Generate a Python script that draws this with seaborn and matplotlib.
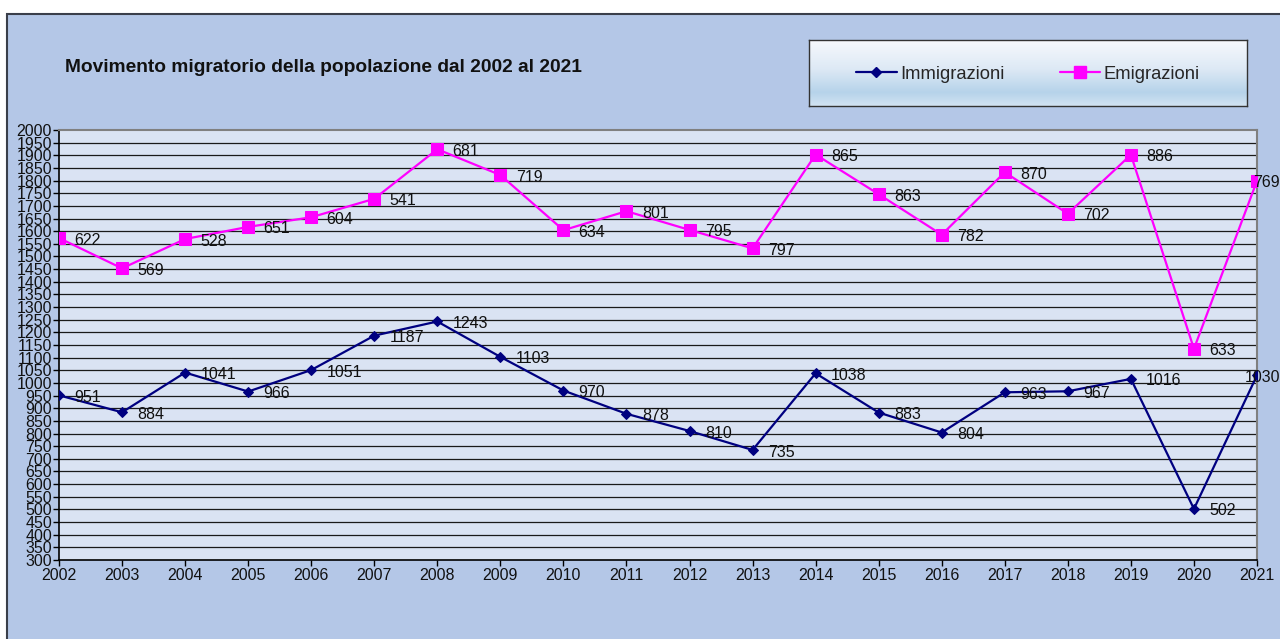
import numpy as np
import pandas as pd
import matplotlib
matplotlib.use("Agg")
import matplotlib.pyplot as plt
import seaborn as sns
from matplotlib.patches import Rectangle
from matplotlib.lines import Line2D
from matplotlib.colors import LinearSegmentedColormap

years = list(range(2002, 2022))
immigrazioni = [951, 884, 1041, 966, 1051, 1187, 1243, 1103, 970, 878,
                810, 735, 1038, 883, 804, 963, 967, 1016, 502, 1030]
emigrazioni = [622, 569, 528, 651, 604, 541, 681, 719, 634, 801,
               795, 797, 865, 863, 782, 870, 702, 886, 633, 769]
y_ticks = list(range(300, 2001, 50))
title = "Movimento migratorio della popolazione dal 2002 al 2021"

sns.set_theme(style="white")
plt.rcParams['font.family'] = ['Liberation Sans', 'DejaVu Sans']

W, H = 1280, 639
fig = plt.figure(figsize=(W / 100, H / 100), dpi=100, facecolor="white")

# chart area background with border
fig.patches.append(Rectangle((7 / W, -0.05), 1.1, 1 - 14 / H + 0.05,
                             transform=fig.transFigure, facecolor="#b4c7e7",
                             edgecolor="#3a3f4a", lw=1.5, zorder=-10))

ax = fig.add_axes([59 / W, 1 - 560 / H, (1257 - 59) / W, (560 - 130) / H])
ax.set_facecolor("#dae3f3")

df = pd.DataFrame({"Anno": years, "Immigrazioni": immigrazioni,
                   "Emigrazioni": emigrazioni})
df["Emi_cum"] = df["Immigrazioni"] + df["Emigrazioni"]

for y in y_ticks[1:-1]:
    ax.axhline(y, color="#1a1a1a", lw=0.9, zorder=1)

sns.lineplot(data=df, x="Anno", y="Immigrazioni", ax=ax, color="#000080",
             lw=1.6, marker="D", markersize=5.5, markeredgecolor="#000080",
             zorder=3)
sns.lineplot(data=df, x="Anno", y="Emi_cum", ax=ax, color="#ff00ff",
             lw=1.6, marker="s", markersize=8.5, markeredgecolor="#ff00ff",
             zorder=3)


def put_label(xv, yv, text, last):
    if last:
        ax.annotate(text, (xv, yv), xytext=(16.5, -1.5), textcoords="offset points",
                    ha="right", va="center", fontsize=11.5, color="#111111",
                    zorder=4, annotation_clip=False)
    else:
        ax.annotate(text, (xv, yv), xytext=(11, -1.5), textcoords="offset points",
                    ha="left", va="center", fontsize=11.5, color="#111111",
                    zorder=4, annotation_clip=False)


n = len(years)
for i, (xv, yv) in enumerate(zip(df["Anno"], df["Immigrazioni"])):
    put_label(xv, yv, str(yv), i == n - 1)
for i, (xv, yv, lab) in enumerate(zip(df["Anno"], df["Emi_cum"], df["Emigrazioni"])):
    put_label(xv, yv, str(lab), i == n - 1)

ax.set_xlim(years[0], years[-1])
ax.set_ylim(300, 2000)
ax.set_xticks(years)
ax.set_xticklabels([str(y) for y in years])
ax.set_yticks(y_ticks)
ax.set_yticklabels([str(y) for y in y_ticks])
ax.set_xlabel("")
ax.set_ylabel("")
ax.tick_params(axis="both", which="both", direction="out", length=4,
               width=1, color="black", labelsize=11.5, pad=2,
               labelcolor="#111111", left=True, bottom=True)
ax.tick_params(axis="y", pad=1)
for s in ["left", "bottom"]:
    ax.spines[s].set_color("black")
    ax.spines[s].set_linewidth(1.2)
for s in ["top", "right"]:
    ax.spines[s].set_color("#808080")
    ax.spines[s].set_linewidth(1.5)
if ax.get_legend():
    ax.get_legend().remove()

fig.text(65 / W, 1 - 68 / H, title, ha="left", va="center",
         fontsize=13.8, fontweight="bold", color="#111111")

# legend box with gradient
lax = fig.add_axes([809 / W, 1 - 106 / H, (1247 - 809) / W, (106 - 40) / H])
grad = np.linspace(0, 1, 200).reshape(-1, 1)
cmap = LinearSegmentedColormap.from_list(
    "g", [(0.0, "#f7f9fd"), (0.45, "#dde9f5"), (0.8, "#b6d3ea"), (1.0, "#d2e3f2")])
lax.imshow(grad, aspect="auto", cmap=cmap, extent=[0, 1, 0, 1], origin="upper")
lax.set_xticks([])
lax.set_yticks([])
for s in lax.spines.values():
    s.set_color("#333333")
    s.set_linewidth(1.0)
handles = [Line2D([0], [0], color="#000080", lw=1.6, marker="D", markersize=5.5),
           Line2D([0], [0], color="#ff00ff", lw=1.6, marker="s", markersize=8.5)]
lax.legend(handles, ["Immigrazioni", "Emigrazioni"], loc="center", ncol=2,
           frameon=False, fontsize=13.2, handlelength=2.2, handletextpad=0.2,
           columnspacing=3.0, bbox_to_anchor=(0.5, 0.48))

fig.savefig("out.png", dpi=100, facecolor=fig.get_facecolor())
